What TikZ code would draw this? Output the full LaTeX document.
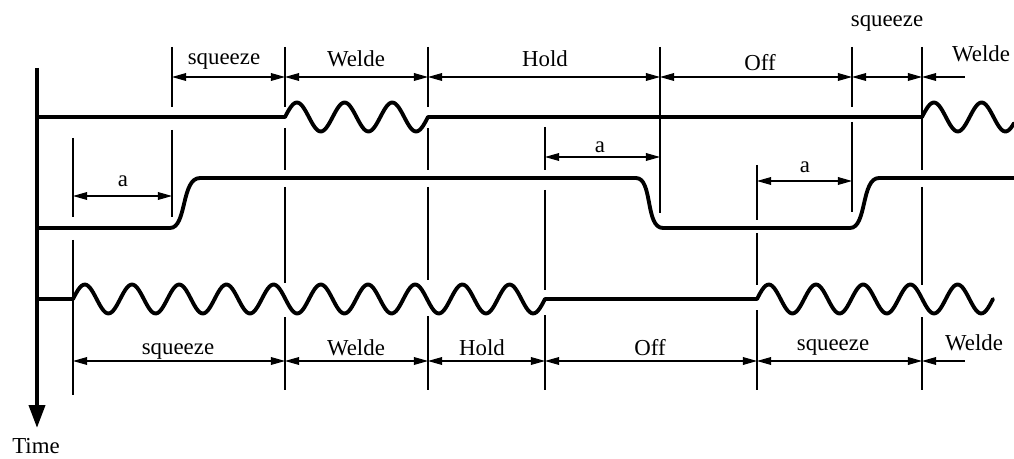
\documentclass[tikz,border=0pt]{standalone}
\usepackage{fontspec}
\setmainfont{Liberation Serif}
\usetikzlibrary{arrows.meta}

\begin{document}
\begin{tikzpicture}[
  x=0.02cm, y=-0.02cm,
  every node/.style={font=\fontsize{13}{15}\selectfont, inner sep=0pt},
  lbl/.style={anchor=base},
  sig/.style={line width=2.2pt, line join=round, line cap=round},
  guide/.style={line width=0.7pt},
  dim/.style={{Triangle[length=8pt,width=4.4pt]}-{Triangle[length=8pt,width=4.4pt]}, line width=0.6pt},
  dimleft/.style={{Triangle[length=8pt,width=4.4pt]}-, line width=0.6pt},
  axis/.style={-{Triangle[length=13pt,width=9pt]}, line width=2.3pt}
]
\useasboundingbox (0,0) rectangle (1014,459);

% time axis
\coordinate (ax0) at (37,68);
\coordinate (ax1) at (37,428);
\draw[axis] (ax0) -- (ax1);
\node[lbl] (time) at (36,453) {Time};

% signals
\draw[sig] (37,117) -- (285,117)
  -- plot[domain=285:428, samples=90] (\x,{117-14.5*sin((\x-285)/47.67*360)})
  -- (922,117)
  -- plot[domain=922:1014, samples=60] (\x,{117-14.5*sin((\x-922)/47.67*360)});
\draw[sig] (37,228) -- (170,228) .. controls (187,228) and (181,178) .. (200,178)
  -- (636,178) .. controls (653,178) and (645,228) .. (663,228)
  -- (850,228) .. controls (867,228) and (861,178) .. (879,178) -- (1014,178);
\draw[sig] (37,299) -- (73,299)
  -- plot[domain=73:545, samples=280] (\x,{299-14.5*sin((\x-73)/47.2*360)})
  -- (757,299)
  -- plot[domain=757:993, samples=140] (\x,{299-14.5*sin((\x-757)/47.2*360)});

% guide lines
\draw[guide] (73,138) -- (73,217) (73,240) -- (73,395);
\draw[guide] (172,47) -- (172,107) (172,130) -- (172,217);
\draw[guide] (285,47) -- (285,107) (285,128) -- (285,170) (285,187) -- (285,283) (285,317) -- (285,390);
\draw[guide] (428,47) -- (428,107) (428,128) -- (428,170) (428,187) -- (428,280) (428,316) -- (428,390);
\draw[guide] (545,127) -- (545,170) (545,190) -- (545,290) (545,315) -- (545,390);
\draw[guide] (660,47) -- (660,213);
\draw[guide] (757,165) -- (757,220) (757,233) -- (757,285) (757,310) -- (757,390);
\draw[guide] (852,47) -- (852,107) (852,122) -- (852,212);
\draw[guide] (922,47) -- (922,170) (922,187) -- (922,285) (922,317) -- (922,390);

% top dimensions
\coordinate (T2) at (172,77);
\coordinate (T3) at (285,77);
\coordinate (T4) at (428,77);
\coordinate (T6) at (660,77);
\coordinate (T8) at (852,77);
\coordinate (T9) at (922,77);
\coordinate (Tend) at (965,77);
\draw[dim] (T2) -- (T3);
\draw[dim] (T3) -- (T4);
\draw[dim] (T4) -- (T6);
\draw[dim] (T6) -- (T8);
\draw[dim] (T8) -- (T9);
\draw[dimleft] (T9) -- (Tend);
\node[lbl] (sqzT) at (224,65) {squeeze};
\node[lbl] (weldT) at (356,67) {Welde};
\node[lbl] (holdT) at (545,67) {Hold};
\node[lbl] (offT) at (760,71) {Off};
\node[lbl] (sqzTr) at (887,27) {squeeze};
\node[lbl] (weldTr) at (981,62) {Welde};

% delay a
\coordinate (a1l) at (73,196);
\coordinate (a1r) at (172,196);
\coordinate (a2l) at (545,157);
\coordinate (a2r) at (660,157);
\coordinate (a3l) at (757,181);
\coordinate (a3r) at (852,181);
\draw[dim] (a1l) -- (a1r);
\draw[dim] (a2l) -- (a2r);
\draw[dim] (a3l) -- (a3r);
\node[lbl] (da1) at (123,187) {a};
\node[lbl] (da2) at (600,153) {a};
\node[lbl] (da3) at (805,173) {a};

% bottom dimensions
\coordinate (B1) at (73,361);
\coordinate (B3) at (285,361);
\coordinate (B4) at (428,361);
\coordinate (B5) at (545,361);
\coordinate (B7) at (757,361);
\coordinate (B9) at (922,361);
\coordinate (Bend) at (965,361);
\draw[dim] (B1) -- (B3);
\draw[dim] (B3) -- (B4);
\draw[dim] (B4) -- (B5);
\draw[dim] (B5) -- (B7);
\draw[dim] (B7) -- (B9);
\draw[dimleft] (B9) -- (Bend);
\node[lbl] (sqzB) at (178,354) {squeeze};
\node[lbl] (weldB) at (356,355) {Welde};
\node[lbl] (holdB) at (482,355) {Hold};
\node[lbl] (offB) at (650,355) {Off};
\node[lbl] (sqzBr) at (833,350) {squeeze};
\node[lbl] (weldBr) at (974,350) {Welde};
\end{tikzpicture}
\end{document}
